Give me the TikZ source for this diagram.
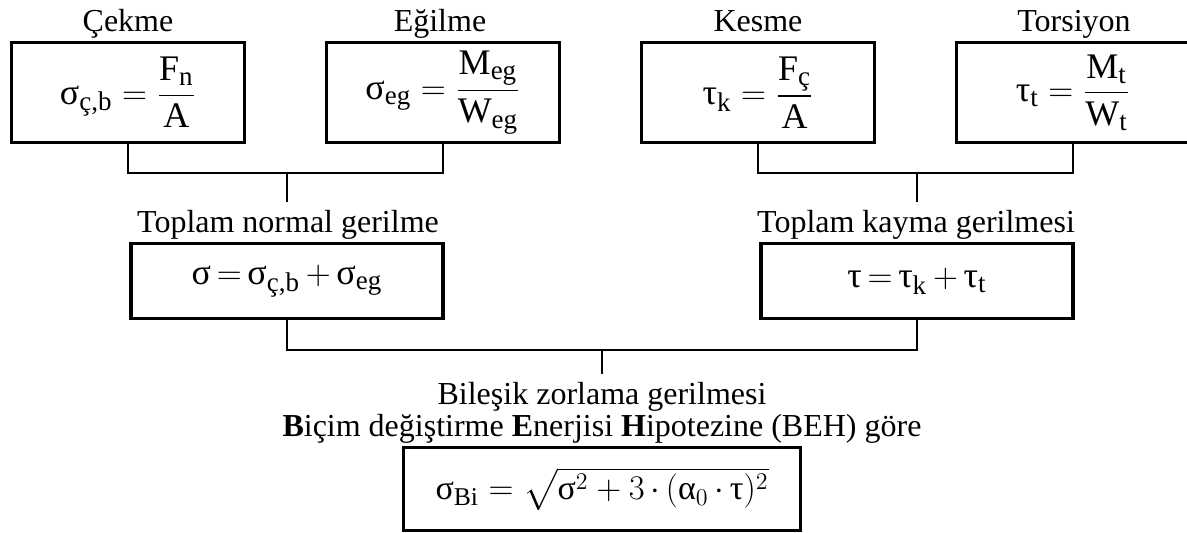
\documentclass[tikz,border=0pt]{standalone}
\usepackage{amsmath}
\usepackage{fontspec}
\setmainfont{Liberation Serif}
\usepackage{tikz}
\usetikzlibrary{positioning,calc}

\DeclareMathSizes{18}{18}{13.5}{10}
\DeclareMathSizes{17}{17}{12.8}{9.5}
\newcommand{\gsig}{\text{σ}}
\newcommand{\gtau}{\text{τ}}
\newcommand{\galf}{\text{α}}

\begin{document}
\begin{tikzpicture}[
    x=0.5pt,
    y=-0.5pt,
    font=\fontsize{16}{19}\selectfont,
    formbox/.style={draw, line width=1.6pt, align=center, minimum width=116.5pt, minimum height=50pt, inner sep=2pt, font=\fontsize{18}{21}\selectfont},
    sumbox/.style={formbox, minimum width=156pt, minimum height=37.5pt},
    resbox/.style={formbox, minimum width=198.5pt, minimum height=41.5pt, font=\fontsize{17}{20}\selectfont},
    lbl/.style={anchor=base, inner xsep=0pt, inner ysep=4pt},
    link/.style={line width=1.35pt}
]

\useasboundingbox (0,0) rectangle (1187,533);

% --- Tekil gerilmeler ---
\node[formbox] (cekme)    at (128,92.5)  {$\displaystyle \gsig_{\text{ç,b}} = \frac{\text{F}_{\text{n}}}{\text{A}}$};
\node[formbox] (egilme)   at (443,92.5)  {$\displaystyle \gsig_{\text{eg}} = \frac{\text{M}_{\text{eg}}}{\text{W}_{\text{eg}}}$};
\node[formbox] (kesme)    at (758,92.5)  {$\displaystyle \gtau_{\text{k}} = \frac{\text{F}_{\text{ç}}}{\text{A}}$};
\node[formbox] (torsiyon) at (1073,92.5) {$\displaystyle \gtau_{\text{t}} = \frac{\text{M}_{\text{t}}}{\text{W}_{\text{t}}}$};

\node[lbl] (tcekme)    at (128,32)  {Çekme};
\node[lbl] (tegilme)   at (440,32)  {Eğilme};
\node[lbl] (tkesme)    at (758,32)  {Kesme};
\node[lbl] (ttorsiyon) at (1074,32) {Torsiyon};

% --- Toplam gerilmeler ---
\node[sumbox] (normal) at (287,281) {$\gsig\,{=}\,\gsig_{\text{ç,b}}\,{+}\,\gsig_{\text{eg}}$};
\node[sumbox] (kayma)  at (917,281) {$\gtau\,{=}\,\gtau_{\text{k}}\,{+}\,\gtau_{\text{t}}$};

\node[lbl] (tnormal) at (288,233) {Toplam normal gerilme};
\node[lbl] (tkayma)  at (916,233) {Toplam kayma gerilmesi};

% --- Bileşik gerilme ---
\node[lbl, anchor=north, align=center, inner ysep=4pt, font={\fontsize{16}{16}\selectfont\lineskiplimit=-20pt}] (tbilesik) at (602,374)
    {Bileşik zorlama gerilmesi\\\textbf{B}içim değiştirme \textbf{E}nerjisi \textbf{H}ipotezine (BEH) göre};
\node[resbox] (bilesik) at (602,489) {$\gsig_{\text{Bi}} = \sqrt{\gsig^{2} + 3\,{\cdot}\,(\galf_{0}\,{\cdot}\,\gtau)^{2}}$};

% --- Bağlantılar ---
\coordinate (jn) at (287,173);
\coordinate (jk) at (917,173);
\coordinate (jb) at (602,350);

\draw[link] (cekme.south) |- (jn) -| (egilme.south);
\draw[link] (jn) -- (jn |- tnormal.north);
\draw[link] (kesme.south) |- (jk) -| (torsiyon.south);
\draw[link] (jk) -- (jk |- tkayma.north);
\draw[link] (normal.south) |- (jb) -| (kayma.south);
\draw[link] (jb) -- (tbilesik.north);

\end{tikzpicture}
\end{document}
